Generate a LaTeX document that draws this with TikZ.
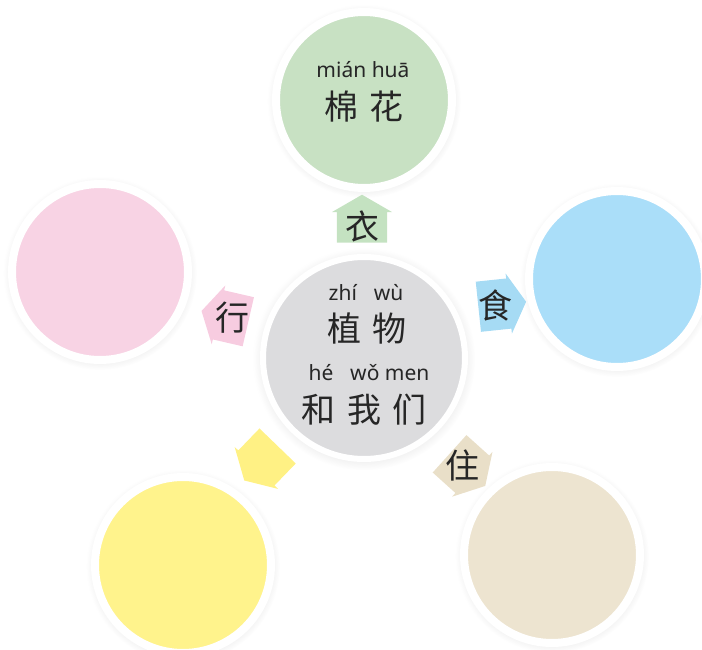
\documentclass[tikz,border=0pt]{standalone}
\usepackage{fontspec}
\setmainfont{Noto Sans}
\newfontfamily\cjk{Noto Sans CJK SC}
\usetikzlibrary{shapes, shadows, positioning}
\definecolor{mygreen}{HTML}{C8E1C3}
\definecolor{mypink}{HTML}{F8D3E4}
\definecolor{myblue}{HTML}{AADEF9}
\definecolor{myyellow}{HTML}{FFF38C}
\definecolor{mybeige}{HTML}{EDE4D0}
\definecolor{mygray}{HTML}{DCDCDE}
\definecolor{arrgreen}{HTML}{C4E2C1}
\definecolor{arrpink}{HTML}{F7CCE0}
\definecolor{arrblue}{HTML}{A6DBF4}
\definecolor{arryellow}{HTML}{FFF184}
\definecolor{arrbeige}{HTML}{E9DFC8}
\tikzset{disc/.style = {
  % circle with white ring:
  circle,
  fill=#1,
  draw=white, line width=8pt,
  minimum size=176pt,
  circular drop shadow={shadow xshift=0pt, shadow yshift=-1pt,
    shadow scale=1.1, opacity=0.18}
  }}
\tikzset{hub/.style = {
  disc=#1,
  line width=6pt,
  minimum size=202pt
  }}
\tikzset{pointer/.style = {
  % arrow:
  single arrow,
  fill=#1, draw=none,
  minimum height=48pt, minimum width=60pt,
  single arrow head extend=5pt,
  single arrow tip angle=120,
  inner xsep=0pt, inner ysep=25pt
  }}
\tikzset{pinyin/.style = {font=\fontsize{21}{23}\selectfont, text=black!85}}
\tikzset{hanzi/.style = {font=\cjk\fontsize{34}{36}\selectfont, text=black!85}}
\newcommand{\gap}{\hspace{0.35em}}

\begin{document}
\begin{tikzpicture}[x=1pt, y=-1pt]
\useasboundingbox (0,0) rectangle (702,650);

% CIRCLES
\node (zhiwu) [hub=mygray] at (364,358) {};
\node (mianhua) [disc=mygreen] at (364,100) {};
\node (xingc) [disc=mypink] at (100,272) {};
\node (shic) [disc=myblue] at (617,279) {};
\node (kong) [disc=myyellow] at (183,565) {};
\node (zhuc) [disc=mybeige] at (552,555) {};

% TEXT
\node (mianhua-py) [pinyin] at (363,70) {mián huā};
\node (mianhua-hz) [hanzi] at (364,107) {棉\gap 花};
\node (zhiwu-py) [pinyin] at (366,293) {zhí\hspace{0.8em}wù};
\node (zhiwu-hz) [hanzi] at (367,328) {植\gap 物};
\node (women-py) [pinyin] at (369,373) {hé\hspace{0.8em}wǒ men};
\node (women-hz) [hanzi] at (364,410) {和\gap 我\gap 们};

% arrows
\node (yi) [pointer=arrgreen, rotate=90] at (362,226) {};
\node (xing) [pointer=arrpink, rotate=167] at (232,318) {};
\node (shi) [pointer=arrblue, rotate=6] at (495,305) {};
\node (qita) [pointer=arryellow, rotate=226] at (266,458) {};
\node (zhu) [pointer=arrbeige, rotate=-42] at (462,465) {};
\node (yi-txt) [hanzi] at (yi) {衣};
\node (xing-txt) [hanzi] at (xing) {行};
\node (shi-txt) [hanzi] at (shi) {食};
\node (zhu-txt) [hanzi] at (zhu) {住};
\end{tikzpicture}
\end{document}
